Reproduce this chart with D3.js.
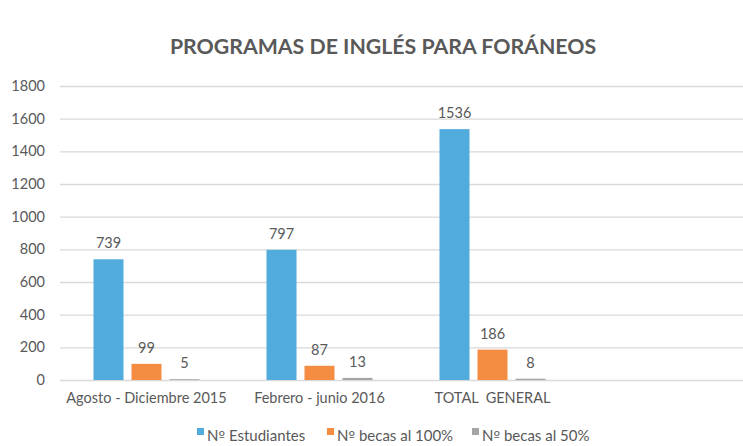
<!DOCTYPE html>
<meta charset="utf-8">
<head>
<style>
  body { margin: 0; background: #fff; }
  svg text { font-family: Lato, "Open Sans", sans-serif; fill: #595959; }
</style>
</head>
<body>
<svg width="743" height="446"></svg>

<script src="https://d3js.org/d3.v7.min.js"></script>
<script>
var categories = ["Agosto - Diciembre 2015", "Febrero - junio 2016", "TOTAL  GENERAL", ""];
var series = ["Nº Estudiantes", "Nº becas al 100%", "Nº becas al 50%"];
var estudiantes = [739, 797, 1536];
var becas100 = [99, 87, 186];
var becas50 = [5, 13, 8];
var yTicks = [0, 200, 400, 600, 800, 1000, 1200, 1400, 1600, 1800];
var colors = ["#52abdd", "#f48c42", "#a5a5a5"];

var values = [estudiantes, becas100, becas50];

var svg = d3.select("svg");

var x0 = d3.scaleBand().domain(categories).range([60, 752]);
var x1 = d3.scaleBand().domain(series).range([-53, 53]).paddingInner(8 / 38);
var y = d3.scaleLinear().domain([0, 1800]).range([380, 86]);

// title
svg.append("text")
    .attr("x", 383)
    .attr("y", 54)
    .attr("text-anchor", "middle")
    .style("font-size", "21.3px")
    .style("font-weight", "bold")
    .text("PROGRAMAS DE INGLÉS PARA FORÁNEOS");

// gridlines + y labels
var yAxis = svg.append("g")
    .attr("transform", "translate(60,0)")
    .call(d3.axisLeft(y).tickValues(yTicks).tickFormat(d3.format("d"))
      .tickSizeInner(-683).tickSizeOuter(0).tickPadding(15));
yAxis.select(".domain").remove();
yAxis.selectAll("line").attr("stroke", "#d9d9d9").attr("stroke-width", 1.3);
yAxis.selectAll("text").style("font-size", "14.5px").style("font-family", "Lato, sans-serif").attr("fill", "#595959");

// x labels
svg.selectAll("text.cat")
    .data(categories)
    .enter().append("text")
    .attr("class", "cat")
    .attr("x", function(d) { return x0(d) + x0.bandwidth() / 2; })
    .attr("y", 403)
    .attr("text-anchor", "middle")
    .style("font-size", "14.5px")
    .style("white-space", "pre")
    .text(function(d) { return d; });

// bars
series.forEach(function(s, si) {
  var g = svg.append("g");
  var rows = values[si].map(function(v, i) { return {cat: categories[i], v: v}; });
  g.selectAll("rect")
      .data(rows)
      .enter().append("rect")
      .attr("x", function(d) { return x0(d.cat) + x0.bandwidth() / 2 + x1(s); })
      .attr("width", x1.bandwidth())
      .attr("y", function(d) { return y(d.v); })
      .attr("height", function(d) { return y(0) - y(d.v); })
      .attr("fill", colors[si]);
  g.selectAll("text")
      .data(rows)
      .enter().append("text")
      .attr("x", function(d) { return x0(d.cat) + x0.bandwidth() / 2 + x1(s) + x1.bandwidth() / 2; })
      .attr("y", function(d) { return y(d.v) - 11; })
      .attr("text-anchor", "middle")
      .style("font-size", "14.5px")
      .attr("fill", "#404040")
      .text(function(d) { return d.v; });
});

// legend
var legX = [197, 327, 472];
var leg = svg.selectAll("g.leg")
    .data(series)
    .enter().append("g")
    .attr("class", "leg")
    .attr("transform", function(d, i) { return "translate(" + legX[i] + ",0)"; });
leg.append("rect")
    .attr("y", 428)
    .attr("width", 7)
    .attr("height", 7)
    .attr("fill", function(d, i) { return colors[i]; });
var legText = leg.append("text")
    .attr("x", 10)
    .attr("y", 441)
    .style("font-size", "15px");
legText.append("tspan").text("N");
legText.append("tspan").style("font-family", "'DejaVu Sans', sans-serif").style("font-size", "14px").text("º");
legText.append("tspan").text(function(d) { return d.slice(2); });
</script>
</body>
